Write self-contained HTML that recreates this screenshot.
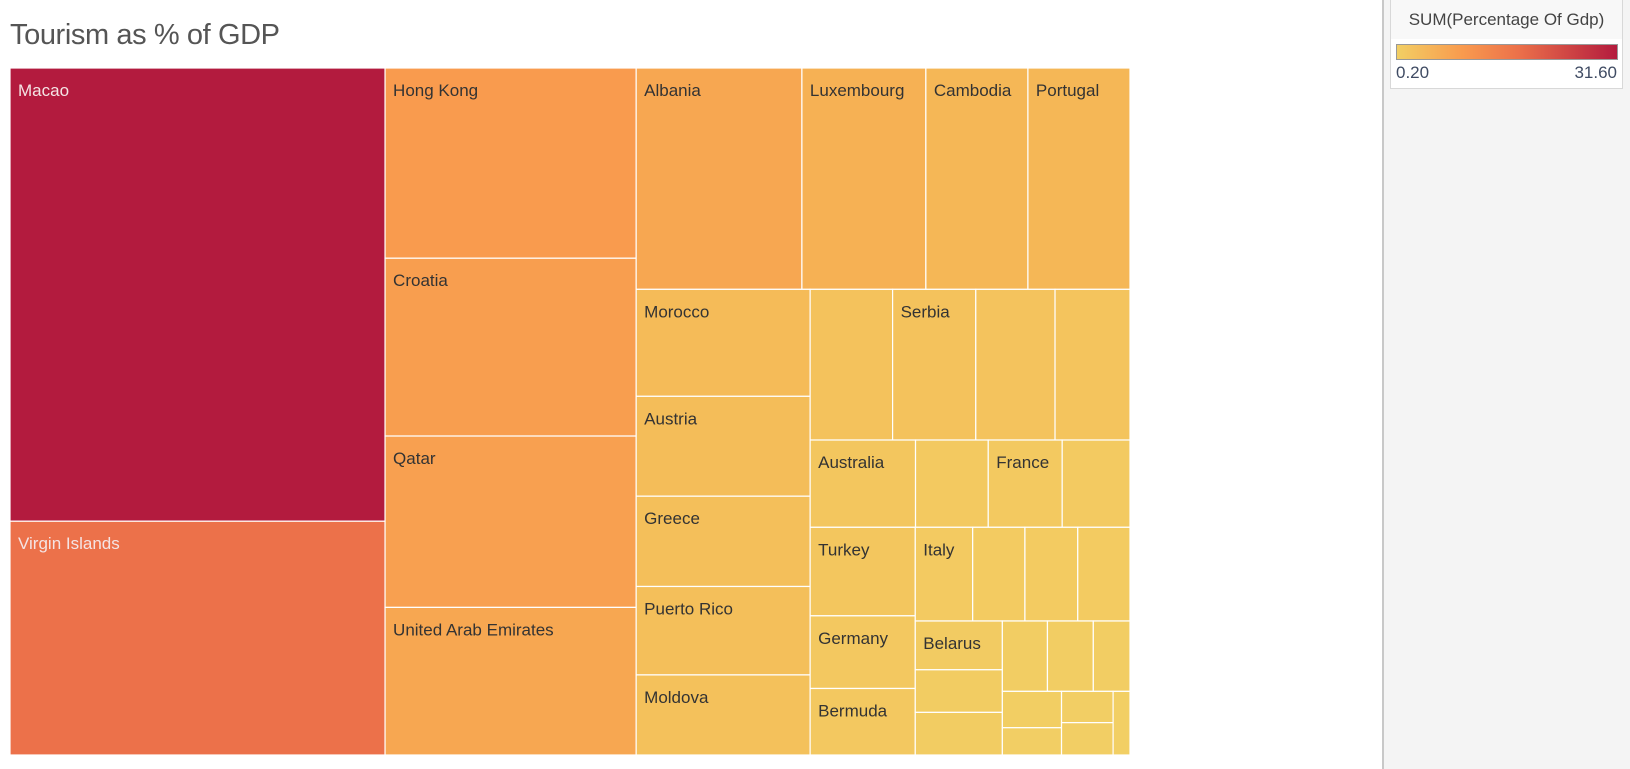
<!DOCTYPE html>
<html><head><meta charset="utf-8"><style>
body{margin:0;width:1630px;height:769px;background:#fff;position:relative;overflow:hidden;font-family:"Liberation Sans",sans-serif;}
#title{position:absolute;left:10px;top:19px;font-size:29px;color:#555;font-weight:normal;letter-spacing:-0.4px}
#panel{position:absolute;left:1382px;top:0;width:248px;height:769px;background:#f4f4f4;border-left:2px solid #c8c8c8}
#legend{position:absolute;left:1390px;top:-1px;width:231px;height:89px;background:#fff;border:1px solid #d8d8d8;border-top:none}
#legend .lt{position:absolute;left:0;top:0;width:231px;height:40px;background:#f8f8f8;text-align:center;font-size:17px;color:#444;line-height:42px}
#grad{position:absolute;left:5px;top:45px;width:220px;height:14px;border:1px solid #999;background:linear-gradient(to right,#f2cf64,#f99a4e 30%,#ec714a 55%,#b31b3e)}
.ll{position:absolute;top:64px;font-size:17px;color:#3f4b63}
svg{position:absolute;left:0;top:0}
</style></head><body>
<div id="title">Tourism as % of GDP</div>
<div id="panel"></div>
<div id="legend">
<div class="lt">SUM(Percentage Of Gdp)</div>
<div id="grad"></div>
<div class="ll" style="left:5px">0.20</div>
<div class="ll" style="right:5px">31.60</div>
</div>
<svg id="tm" width="1630" height="769"></svg>
<script>
const countries=["Macao","Virgin Islands","Hong Kong","Croatia","Qatar","United Arab Emirates","Albania","Luxembourg","Cambodia","Portugal","Morocco","Austria","Greece","Puerto Rico","Moldova","","Serbia","","","Australia","","France","","Turkey","Germany","Bermuda","Italy","","","","Belarus","","","","","","","","","",""];
const values=[31.6,16.3,8.88,8.30,8.0,6.89,6.82,5.10,4.20,4.20,3.46,3.23,2.92,2.86,2.59,2.31,2.33,2.22,2.10,1.71,1.18,1.20,1.10,1.73,1.42,1.30,1.00,0.91,0.92,0.91,0.79,0.69,0.69,0.59,0.60,0.48,0.40,0.30,0.30,0.31,0.20];
const colorStops=[0.2,4,9,16.3,31.6];
const colorHex=["#f2cf64","#f5b856","#f99a4e","#ec714a","#b31b3e"];
// layout tree: [direction, children]; leaves are indices into values
const g5=["x",[["y",[36,37]],["y",[38,39]],40]];
const g4=["y",[["x",[33,34,35]],g5]];
const g3=["x",[["y",[30,31,32]],g4]];
const g2=["y",[["x",[26,27,28,29]],g3]];
const g1=["x",[["y",[23,24,25]],g2]];
const rightBlock=["y",[["x",[15,16,17,18]],["x",[19,20,21,22]],g1]];
const bottomBlock=["x",[["y",[10,11,12,13,14]],rightBlock]];
const restBlock=["y",[["x",[6,7,8,9]],bottomBlock]];
const tree=["x",[["y",[0,1]],["y",[2,3,4,5]],restBlock]];
const X0=10,Y0=68,W=1120,H=687;
function sum(n){return typeof n==="number"?values[n]:n[1].reduce((a,c)=>a+sum(c),0);}
function hex(h){return [1,3,5].map(i=>parseInt(h.substr(i,2),16));}
function color(v){let i=0;while(i<colorStops.length-2&&v>colorStops[i+1])i++;
 let t=Math.max(0,Math.min(1,(v-colorStops[i])/(colorStops[i+1]-colorStops[i])));
 const a=hex(colorHex[i]),b=hex(colorHex[i+1]);return "rgb("+a.map((x,k)=>Math.round(x+(b[k]-x)*t)).join(",")+")";}
const svg=document.getElementById('tm');const NS="http://www.w3.org/2000/svg";
function layout(n,x,y,w,h){
 if(typeof n==="number"){
  const r=document.createElementNS(NS,"rect");
  r.setAttribute('x',x);r.setAttribute('y',y);r.setAttribute('width',w);r.setAttribute('height',h);
  r.setAttribute('fill',color(values[n]));r.setAttribute('stroke','#fff');r.setAttribute('stroke-width','1.2');
  
  
  svg.appendChild(r);
  if(countries[n]){const t=document.createElementNS(NS,"text");
   t.setAttribute('x',x+8);t.setAttribute('y',y+28);t.setAttribute('font-size','17');
   t.setAttribute('font-family','"Liberation Sans",sans-serif');
   t.setAttribute('fill',values[n]>12?'#f4e4e4':'#333');t.textContent=countries[n];
   
   
   svg.appendChild(t);}
  return;}
 const tot=sum(n);let off=0;
 n[1].forEach(c=>{const f=sum(c)/tot;
  if(n[0]==="x"){layout(c,x+off,y,w*f,h);off+=w*f;}else{layout(c,x,y+off,w,h*f);off+=h*f;}});
}
layout(tree,X0,Y0,W,H);
</script>
</body></html>
